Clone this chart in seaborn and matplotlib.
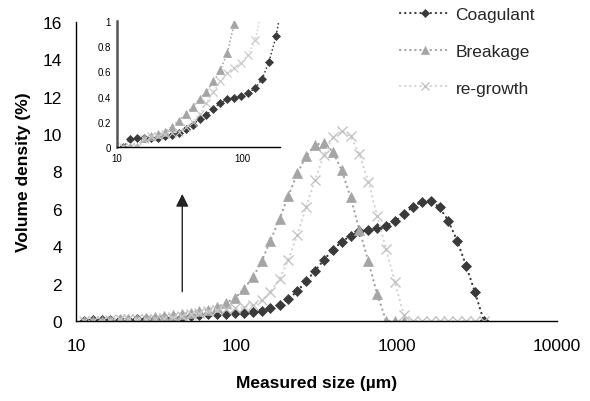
import numpy as np
import matplotlib
matplotlib.use("Agg")
import matplotlib.pyplot as plt
import seaborn as sns
from matplotlib.lines import Line2D

# Particle size classes (um) - Mastersizer bins
sizes = [11.2, 12.7, 14.5, 16.4, 18.7, 21.2, 24.1, 27.4, 31.1, 35.3, 40.1, 45.6,
         51.8, 58.9, 66.9, 76.0, 86.4, 98.1, 111, 127, 144, 163, 186, 211, 240,
         272, 310, 352, 400, 454, 516, 586, 666, 756, 859, 976, 1110, 1260, 1430,
         1630, 1850, 2100, 2390, 2710, 3080, 3500]

coagulant = [0.0, 0.06, 0.07, 0.075, 0.075, 0.07, 0.084, 0.092, 0.113, 0.145, 0.177, 0.219,
             0.256, 0.303, 0.351, 0.377, 0.388, 0.404, 0.43, 0.467, 0.54, 0.673, 0.879, 1.18, 1.59,
             2.12, 2.69, 3.28, 3.81, 4.24, 4.56, 4.79, 4.87, 4.96, 5.10, 5.33, 5.72, 6.11, 6.38,
             6.43, 6.08, 5.36, 4.27, 2.96, 1.53, 0.0]

breakage = [0.0, 0.0, 0.0, 0.07, 0.09, 0.10, 0.12, 0.16, 0.21, 0.26, 0.32, 0.38,
            0.44, 0.52, 0.61, 0.75, 0.98, 1.22, 1.71, 2.34, 3.2, 4.30, 5.46, 6.70, 7.9,
            8.81, 9.42, 9.55, 9.05, 8.07, 6.61, 4.87, 3.19, 1.44, 0.0, 0.0, 0.0, np.nan, np.nan,
            np.nan, np.nan, np.nan, np.nan, np.nan, np.nan, np.nan]

regrowth = [0.0, 0.0, 0.0, 0.066, 0.085, 0.09, 0.10, 0.11, 0.12, 0.16, 0.20, 0.26,
            0.35, 0.44, 0.52, 0.59, 0.63, 0.67, 0.73, 0.85, 1.10, 1.57, 2.25, 3.28, 4.60,
            6.08, 7.56, 8.90, 9.82, 10.16, 9.88, 8.93, 7.45, 5.63, 3.83, 2.07, 0.30, 0.0, 0.0,
            0.0, 0.0, 0.0, 0.0, 0.0, 0.0, 0.0]

series_names = ["Coagulant", "Breakage", "re-growth"]
y_ticks = [0, 2, 4, 6, 8, 10, 12, 14, 16]
x_ticks = [10, 100, 1000, 10000]
inset_y_ticks = [0, 0.2, 0.4, 0.6, 0.8, 1]
inset_x_ticks = [10, 100]

sns.set_theme(style="white")
plt.rcParams['font.family'] = ['Liberation Sans', 'DejaVu Sans']

fig = plt.figure(figsize=(5.9, 4.02), dpi=100)
W, H = 590.0, 402.0
ax = fig.add_axes([76 / W, 1 - 322 / H, (557 - 76) / W, (322 - 23) / H])

dot = (0, (0.1, 2.2))
styles = [
    dict(marker='D', color='#3a3a3a', mfc='#3a3a3a', mec='#3a3a3a', ms=5.2, lc='#3a3a3a'),
    dict(marker='^', color='#a5a5a5', mfc='#a5a5a5', mec='#a5a5a5', ms=7.0, lc='#a0a0a0'),
    dict(marker='x', color='#c4c4c4', mfc='none', mec='#c4c4c4', ms=7.5, lc='#d3d3d3'),
]
data = [coagulant, breakage, regrowth]


def draw(a, scale, lw):
    for name, vals, st in zip(series_names, data, styles):
        sns.lineplot(x=sizes, y=vals, ax=a, sort=False, color=st['lc'],
                     linestyle=dot, linewidth=lw, dash_capstyle='round',
                     marker=st['marker'], markersize=st['ms'] * scale,
                     markerfacecolor=st['mfc'], markeredgecolor=st['mec'],
                     markeredgewidth=1.0 * scale if st['marker'] == 'x' else 0.5,
                     legend=False, errorbar=None)


draw(ax, 1.0, 1.6)

ax.set_xscale('log')
ax.set_xlim(10, 10000)
ax.set_ylim(0, 16)
ax.set_xticks(x_ticks)
ax.set_xticklabels([str(t) for t in x_ticks])
ax.minorticks_off()
ax.set_yticks(y_ticks)
ax.set_yticklabels([str(t) for t in y_ticks])
for s in ['top', 'right']:
    ax.spines[s].set_visible(False)
for s in ['left', 'bottom']:
    ax.spines[s].set_color('black')
    ax.spines[s].set_linewidth(1.0)
ax.tick_params(axis='both', direction='out', length=4, width=1, color='black',
               labelsize=12.5, labelcolor='black')
ax.tick_params(axis='x', pad=8)
ax.tick_params(axis='y', pad=6)
ax.grid(False)
ax.set_facecolor('white')

ax.set_xlabel("Measured size (\u00b5m)", fontsize=12.5, fontweight='bold', color='black')
ax.set_ylabel("Volume density (%)", fontsize=12.5, fontweight='bold', color='black')
ax.xaxis.set_label_coords(0.5, -(376 - 322) / 299.0)
ax.yaxis.set_label_coords(-(76 - 31) / 481.0, 0.5)

# arrow
ax.annotate('', xy=(46, 6.8), xytext=(46, 1.57),
            arrowprops=dict(arrowstyle='-|>', color='#222222', lw=1.0,
                            mutation_scale=19, shrinkA=0, shrinkB=0))

# legend
handles = [Line2D([], [], color=st['lc'], linestyle=dot, linewidth=1.6,
                  dash_capstyle='round', marker=st['marker'], markersize=st['ms'] * 0.85,
                  markerfacecolor=st['mfc'], markeredgecolor=st['mec'],
                  markeredgewidth=1.0 if st['marker'] == 'x' else 0.5)
           for st in styles]
fig.legend(handles, series_names, loc='upper left', bbox_to_anchor=(400 / W, 1 - 8 / H),
           frameon=False, fontsize=12.5, handlelength=2.9, handletextpad=0.3,
           labelspacing=1.24, borderpad=0, borderaxespad=0, numpoints=1)

# inset
axi = fig.add_axes([117 / W, 1 - 148 / H, (280 - 117) / W, (148 - 22) / H])
draw(axi, 0.78, 1.2)
axi.set_xscale('log')
axi.set_xlim(10, 200)
axi.set_ylim(0, 1)
axi.set_xticks(inset_x_ticks)
axi.set_xticklabels([str(t) for t in inset_x_ticks])
axi.minorticks_off()
axi.set_yticks(inset_y_ticks)
axi.set_yticklabels([('%g' % t) for t in inset_y_ticks])
for s in ['top', 'right']:
    axi.spines[s].set_visible(False)
axi.spines['left'].set_color('#555555')
axi.spines['left'].set_linewidth(1.8)
axi.spines['bottom'].set_color('black')
axi.spines['bottom'].set_linewidth(1.0)
axi.tick_params(axis='both', direction='out', length=2.5, width=0.8, color='black',
                labelsize=7, labelcolor='black', pad=2)
axi.grid(False)
axi.set_facecolor('none')
axi.patch.set_alpha(0)

fig.savefig("out.png", dpi=100, facecolor='white')
